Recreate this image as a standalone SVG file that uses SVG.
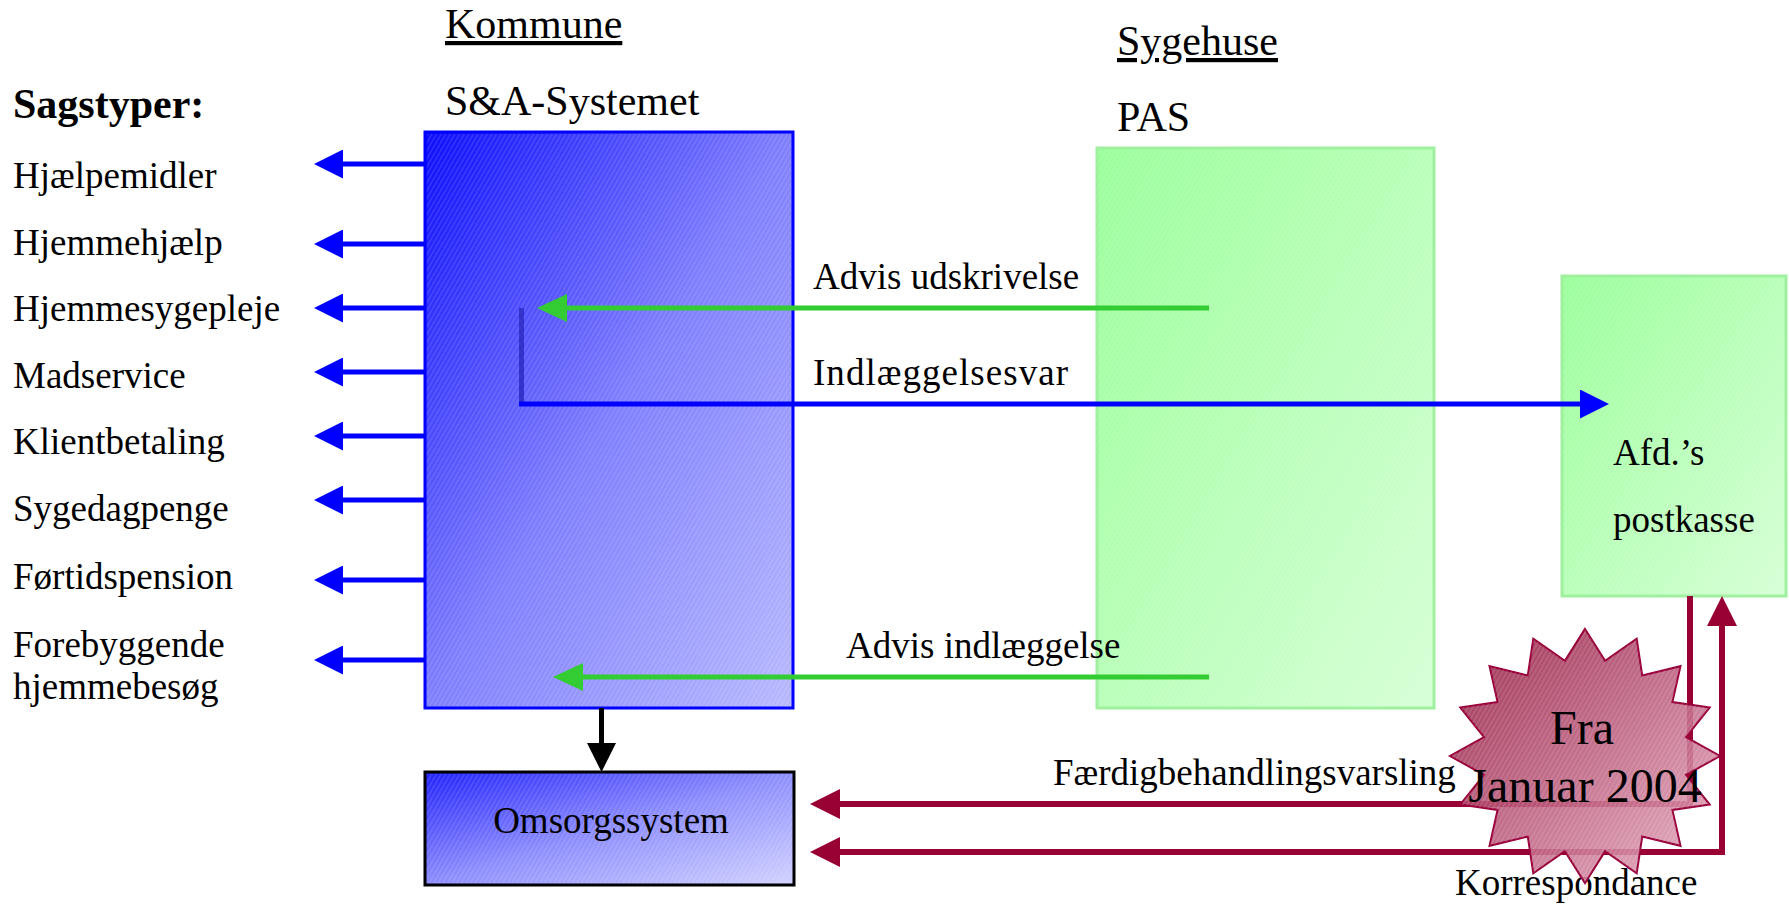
<svg xmlns="http://www.w3.org/2000/svg" width="1789" height="904" viewBox="0 0 1789 904">
<style>
text{font-family:"Liberation Serif","Times New Roman",serif;fill:#000}
.h{font-size:42px}
.t{font-size:37px}
.big{font-size:48px}
.blue{stroke:#0000ff;stroke-width:5;fill:none}
.green{stroke:#33cc33;stroke-width:5;fill:none}
.red{stroke:#990033;stroke-width:6;fill:none}
.black{stroke:#000;stroke-width:5;fill:none}
</style>
<defs>
<linearGradient id="gBlue" x1="0" y1="0" x2="1" y2="1">
<stop offset="0" stop-color="#0a0aff"/><stop offset="0.5" stop-color="#7d7dff"/><stop offset="1" stop-color="#b8b8ff"/>
</linearGradient>
<linearGradient id="gBlue2" x1="0" y1="0" x2="1" y2="1">
<stop offset="0" stop-color="#2020ff"/><stop offset="0.5" stop-color="#8c8cff"/><stop offset="1" stop-color="#d2d2ff"/>
</linearGradient>
<linearGradient id="gGreen" x1="0" y1="0" x2="1" y2="1">
<stop offset="0" stop-color="#99ff99"/><stop offset="1" stop-color="#d6ffd6"/>
</linearGradient>
<linearGradient id="gStar" x1="0" y1="0" x2="1" y2="1">
<stop offset="0" stop-color="#8e1238"/><stop offset="0.5" stop-color="#bb5b7c"/><stop offset="1" stop-color="#e6adc1"/>
</linearGradient>
<pattern id="hatch" width="4" height="4" patternUnits="userSpaceOnUse" patternTransform="rotate(30)">
<line x1="1" y1="0" x2="1" y2="4" stroke="#ffffff" stroke-opacity="0.22" stroke-width="1"/>
</pattern>
<marker id="aBlue" viewBox="0 0 29 29" refX="0" refY="14.5" markerWidth="29" markerHeight="29" markerUnits="userSpaceOnUse" orient="auto"><path d="M0,0 L29,14.5 L0,29 z" fill="#0000ff"/></marker>
<marker id="aGreen" viewBox="0 0 30 28" refX="0" refY="14" markerWidth="30" markerHeight="28" markerUnits="userSpaceOnUse" orient="auto"><path d="M0,0 L30,14 L0,28 z" fill="#33cc33"/></marker>
<marker id="aBlack" viewBox="0 0 29 29" refX="0" refY="14.5" markerWidth="29" markerHeight="29" markerUnits="userSpaceOnUse" orient="auto"><path d="M0,0 L29,14.5 L0,29 z" fill="#000"/></marker>
<marker id="aRed" viewBox="0 0 30 30" refX="0" refY="15" markerWidth="30" markerHeight="30" markerUnits="userSpaceOnUse" orient="auto-start-reverse"><path d="M0,0 L30,15 L0,30 z" fill="#990033"/></marker>
</defs>

<g id="headings">
<text class="h" x="445" y="38" text-decoration="underline">Kommune</text>
<text class="h" x="1117" y="55" text-decoration="underline">Sygehuse</text>
</g>

<g id="sagstyper">
<text class="h" x="13" y="118" font-weight="bold">Sagstyper:</text>
<text class="t" x="13" y="188">Hjælpemidler</text>
<text class="t" x="13" y="255">Hjemmehjælp</text>
<text class="t" x="13" y="321">Hjemmesygepleje</text>
<text class="t" x="13" y="388">Madservice</text>
<text class="t" x="13" y="454">Klientbetaling</text>
<text class="t" x="13" y="521">Sygedagpenge</text>
<text class="t" x="13" y="589">Førtidspension</text>
<text class="t" x="13" y="657">Forebyggende</text>
<text class="t" x="13" y="699">hjemmebesøg</text>
</g>

<g id="sa-systemet">
<text class="h" x="445" y="115">S&amp;A-Systemet</text>
<rect x="425" y="132" width="368" height="576" fill="url(#gBlue)" stroke="#0000ff" stroke-width="3"/>
<rect x="427" y="134" width="364" height="572" fill="url(#hatch)"/>
</g>

<g id="omsorgssystem">
<rect x="425" y="772" width="369" height="113" fill="url(#gBlue2)" stroke="#000" stroke-width="3"/>
<rect x="427" y="774" width="365" height="109" fill="url(#hatch)"/>
<text class="t" x="611" y="833" text-anchor="middle">Omsorgssystem</text>
</g>

<g id="pas">
<text class="h" x="1117" y="131">PAS</text>
<rect x="1097" y="148" width="337" height="560" fill="url(#gGreen)" stroke="#a0f0a0" stroke-width="3"/>
<rect x="1099" y="150" width="333" height="556" fill="url(#hatch)"/>
</g>

<g id="afd-postkasse">
<rect x="1562" y="276" width="224" height="320" fill="url(#gGreen)" stroke="#a0f0a0" stroke-width="3"/>
<rect x="1564" y="278" width="220" height="316" fill="url(#hatch)"/>
<text class="t" x="1613" y="465">Afd.’s</text>
<text class="t" x="1613" y="532">postkasse</text>
</g>

<g id="connectors">
<line class="blue" x1="425" y1="164" x2="343" y2="164" marker-end="url(#aBlue)"/>
<line class="blue" x1="425" y1="244" x2="343" y2="244" marker-end="url(#aBlue)"/>
<line class="blue" x1="425" y1="308" x2="343" y2="308" marker-end="url(#aBlue)"/>
<line class="blue" x1="425" y1="372" x2="343" y2="372" marker-end="url(#aBlue)"/>
<line class="blue" x1="425" y1="436" x2="343" y2="436" marker-end="url(#aBlue)"/>
<line class="blue" x1="425" y1="500" x2="343" y2="500" marker-end="url(#aBlue)"/>
<line class="blue" x1="425" y1="580" x2="343" y2="580" marker-end="url(#aBlue)"/>
<line class="blue" x1="425" y1="660" x2="343" y2="660" marker-end="url(#aBlue)"/>

<line class="green" x1="1209" y1="308" x2="567" y2="308" marker-end="url(#aGreen)"/>
<text class="t" x="813" y="289">Advis udskrivelse</text>

<line x1="521.5" y1="308" x2="521.5" y2="404" stroke="#3333cc" stroke-width="5"/>
<line class="blue" x1="519" y1="404" x2="1580" y2="404" marker-end="url(#aBlue)"/>
<text class="t" x="813" y="385" textLength="255" lengthAdjust="spacing">Indlæggelsesvar</text>

<line class="green" x1="1209" y1="677" x2="583" y2="677" marker-end="url(#aGreen)"/>
<text class="t" x="846" y="658">Advis indlæggelse</text>

<line class="black" x1="601.5" y1="708" x2="601.5" y2="743" marker-end="url(#aBlack)"/>

<polyline class="red" points="1690,596 1690,804 840,804" marker-end="url(#aRed)"/>
<text class="t" x="1053" y="785">Færdigbehandlingsvarsling</text>

<polyline class="red" points="840,852 1722,852 1722,626" marker-start="url(#aRed)" marker-end="url(#aRed)"/>
<text class="t" x="1455" y="895">Korrespondance</text>
</g>

<g id="fra-januar-2004">
<polygon fill="url(#gStar)" fill-opacity="0.88" stroke="#99003a" stroke-width="2" points="1585.0,629.0 1605.1,660.9 1636.7,638.7 1642.2,675.4 1680.5,666.2 1672.4,702.1 1709.7,707.4 1686.0,737.1 1720.0,756.0 1686.0,774.9 1709.7,804.6 1672.4,809.9 1680.5,845.8 1642.2,836.6 1636.7,873.3 1605.1,851.1 1585.0,883.0 1564.9,851.1 1533.3,873.3 1527.8,836.6 1489.5,845.8 1497.6,809.9 1460.3,804.6 1484.0,774.9 1450.0,756.0 1484.0,737.1 1460.3,707.4 1497.6,702.1 1489.5,666.2 1527.8,675.4 1533.3,638.7 1564.9,660.9"/>
<polygon fill="url(#hatch)" points="1585.0,629.0 1605.1,660.9 1636.7,638.7 1642.2,675.4 1680.5,666.2 1672.4,702.1 1709.7,707.4 1686.0,737.1 1720.0,756.0 1686.0,774.9 1709.7,804.6 1672.4,809.9 1680.5,845.8 1642.2,836.6 1636.7,873.3 1605.1,851.1 1585.0,883.0 1564.9,851.1 1533.3,873.3 1527.8,836.6 1489.5,845.8 1497.6,809.9 1460.3,804.6 1484.0,774.9 1450.0,756.0 1484.0,737.1 1460.3,707.4 1497.6,702.1 1489.5,666.2 1527.8,675.4 1533.3,638.7 1564.9,660.9"/>
<text class="big" x="1582" y="744" text-anchor="middle">Fra</text>
<text class="big" x="1585" y="802" text-anchor="middle">Januar 2004</text>
</g>
</svg>
